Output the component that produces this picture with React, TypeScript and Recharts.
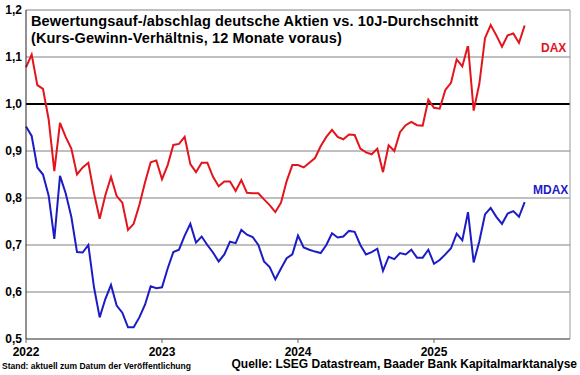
import React from 'react';
import {
  LineChart,
  Line,
  XAxis,
  YAxis,
  CartesianGrid,
  ReferenceLine,
} from 'recharts';

// half-monthly readings, first point = start of 2022
const START_YEAR = 2022;
const STEPS_PER_YEAR = 24;

const DAX = [
  1.078, 1.105, 1.04, 1.032, 0.967, 0.857, 0.96, 0.93, 0.905, 0.85,
  0.865, 0.875, 0.81, 0.756, 0.806, 0.845, 0.804, 0.79, 0.732, 0.745,
  0.785, 0.833, 0.876, 0.88, 0.84, 0.87, 0.913, 0.915, 0.93, 0.872,
  0.855, 0.875, 0.875, 0.845, 0.825, 0.835, 0.835, 0.815, 0.838, 0.811,
  0.81, 0.81, 0.797, 0.785, 0.77, 0.79, 0.836, 0.87, 0.87, 0.865,
  0.875, 0.885, 0.91, 0.93, 0.945, 0.93, 0.925, 0.935, 0.934, 0.905,
  0.897, 0.893, 0.905, 0.855, 0.912, 0.9, 0.94, 0.955, 0.962, 0.955,
  0.954, 1.009, 0.992, 0.99, 1.03, 1.045, 1.095, 1.08, 1.125, 0.986,
  1.043, 1.14, 1.168, 1.146, 1.122, 1.146, 1.15, 1.13, 1.167,
];

const MDAX = [
  0.952, 0.932, 0.865, 0.85, 0.805, 0.713, 0.847, 0.81, 0.76, 0.685,
  0.684, 0.7, 0.61, 0.546, 0.585, 0.615, 0.571, 0.556, 0.525, 0.525,
  0.546, 0.573, 0.612, 0.608, 0.61, 0.65, 0.685, 0.69, 0.72, 0.745,
  0.705, 0.718, 0.7, 0.684, 0.665, 0.68, 0.707, 0.704, 0.732, 0.722,
  0.717, 0.7, 0.665, 0.653, 0.627, 0.65, 0.672, 0.68, 0.72, 0.695,
  0.69, 0.686, 0.683, 0.7, 0.725, 0.716, 0.718, 0.73, 0.728, 0.7,
  0.68, 0.685, 0.692, 0.645, 0.675, 0.67, 0.683, 0.68, 0.69, 0.673,
  0.673, 0.69, 0.66, 0.668, 0.68, 0.693, 0.724, 0.71, 0.77, 0.663,
  0.708, 0.765, 0.779, 0.76, 0.745, 0.767, 0.772, 0.76, 0.791,
];

const YEAR_TICKS = [2022, 2023, 2024, 2025];
const Y_TICKS = [0.5, 0.6, 0.7, 0.8, 0.9, 1.0, 1.1, 1.2];

const RED = '#e3141c';
const BLUE = '#1c1cc6';
const FONT = 'Arial, "Liberation Sans", sans-serif';

const data = DAX.map((v, i) => ({
  t: START_YEAR + i / STEPS_PER_YEAR,
  dax: v,
  mdax: MDAX[i],
}));

const fmt = (v: number) => v.toFixed(1).replace('.', ',');

export default function App() {
  return (
    <div
      style={{
        position: 'absolute',
        left: 0,
        top: 0,
        width: 580,
        height: 375,
        background: '#fff',
        fontFamily: FONT,
      }}
    >
      <LineChart
        width={580}
        height={375}
        data={data}
        margin={{ top: 10, right: 10, bottom: 16, left: 0 }}
      >
        <CartesianGrid horizontal vertical={false} stroke="#808080" />
        <XAxis
          dataKey="t"
          type="number"
          domain={[2022, 2026]}
          ticks={YEAR_TICKS}
          height={20}
          tickSize={4}
          tickMargin={4}
          stroke="#666"
          tick={{ fill: '#000', fontSize: 12, fontWeight: 700, fontFamily: FONT }}
        />
        <YAxis
          domain={[0.5, 1.2]}
          ticks={Y_TICKS}
          width={26}
          tickSize={0}
          tickMargin={4}
          stroke="#222"
          tickFormatter={fmt}
          tick={{ fill: '#000', fontSize: 12, fontWeight: 700, fontFamily: FONT }}
        />
        <ReferenceLine y={1.0} stroke="#000" strokeWidth={2} />
        <ReferenceLine x={2026} stroke="#999" />
        <Line
          dataKey="dax"
          stroke={RED}
          strokeWidth={2}
          dot={false}
          isAnimationActive={false}
        />
        <Line
          dataKey="mdax"
          stroke={BLUE}
          strokeWidth={2}
          dot={false}
          isAnimationActive={false}
        />
      </LineChart>

      {/* title box over the plot */}
      <div
        style={{
          position: 'absolute',
          left: 27,
          top: 12,
          width: 445,
          height: 34,
          background: '#fff',
          boxSizing: 'border-box',
          paddingLeft: 4,
          paddingTop: 1,
          color: '#000',
          fontSize: 14.5,
          fontWeight: 700,
          lineHeight: '16.5px',
          letterSpacing: 0.15,
          whiteSpace: 'nowrap',
        }}
      >
        <div>Bewertungsauf-/abschlag deutsche Aktien vs. 10J-Durchschnitt</div>
        <div>(Kurs-Gewinn-Verhältnis, 12 Monate voraus)</div>
      </div>

      <div style={{ position: 'absolute', left: 541, top: 41, color: RED, fontSize: 12, fontWeight: 700 }}>
        DAX
      </div>
      <div style={{ position: 'absolute', left: 533, top: 183, color: BLUE, fontSize: 12, fontWeight: 700 }}>
        MDAX
      </div>

      <div style={{ position: 'absolute', left: 2, top: 361, fontSize: 8.5, fontWeight: 700, whiteSpace: 'nowrap' }}>
        Stand: aktuell zum Datum der Veröffentlichung
      </div>
      <div style={{ position: 'absolute', right: 3, top: 357, fontSize: 12, fontWeight: 700, whiteSpace: 'nowrap' }}>
        Quelle: LSEG Datastream, Baader Bank Kapitalmarktanalyse
      </div>
    </div>
  );
}
